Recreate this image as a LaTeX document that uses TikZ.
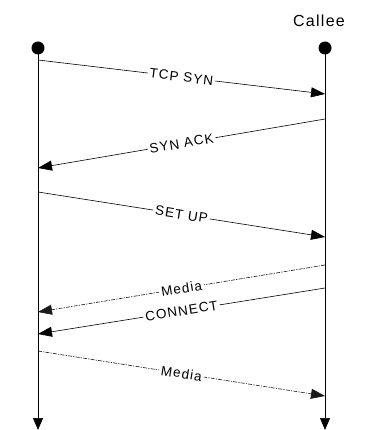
\documentclass[tikz,border=0pt]{standalone}
\usepackage{fontspec}
\setmainfont{Liberation Sans}
\newfontfamily\lblfont[LetterSpace=8]{Liberation Sans}
\usetikzlibrary{arrows.meta}
\tikzset{
  lifeline/.style={line width=0.7pt, -{Triangle[length=12pt,width=10pt]}},
  msg/.style={line width=0.6pt, -{Triangle[length=14pt,width=10pt]}},
  media/.style={msg, draw=black!90, line width=0.6pt, dash pattern=on 4pt off 1.2pt on 1.2pt off 1.2pt},
  lbl/.style={sloped, midway, fill=white, inner sep=2pt, font=\lblfont\fontsize{13.5}{15}\selectfont},
  dot/.style={circle, fill=black, minimum size=13pt, inner sep=0pt}
}
\begin{document}
\begin{tikzpicture}[x=1pt,y=-1pt]
\useasboundingbox (0,0) rectangle (378,430);
\node[font=\lblfont\fontsize{16}{18}\selectfont] (callee) at (319,21) {Callee};
\node[dot] (dA) at (38,48) {};
\node[dot] (dB) at (325,48) {};
\coordinate (endA) at (38,430);
\coordinate (endB) at (325,430);
\draw[lifeline] (dA.center) -- (endA);
\draw[lifeline] (dB.center) -- (endB);
% message endpoints
\coordinate (a1) at (38,60);   \coordinate (b1) at (325,94);
\coordinate (b2) at (325,119); \coordinate (a2) at (38,168);
\coordinate (a3) at (38,192);  \coordinate (b3) at (325,237);
\coordinate (b4) at (325,265); \coordinate (a4) at (38,312);
\coordinate (b5) at (325,288); \coordinate (a5) at (38,334);
\coordinate (a6) at (38,351);  \coordinate (b6) at (325,396);
\draw[msg] (a1) -- node[lbl] {TCP SYN} (b1);
\draw[msg] (b2) -- node[lbl] {SYN ACK} (a2);
\draw[msg] (a3) -- node[lbl] {SET UP} (b3);
\draw[media] (b4) -- node[lbl] {Media} (a4);
\draw[msg] (b5) -- node[lbl] {CONNECT} (a5);
\draw[media] (a6) -- node[lbl] {Media} (b6);
\end{tikzpicture}
\end{document}
